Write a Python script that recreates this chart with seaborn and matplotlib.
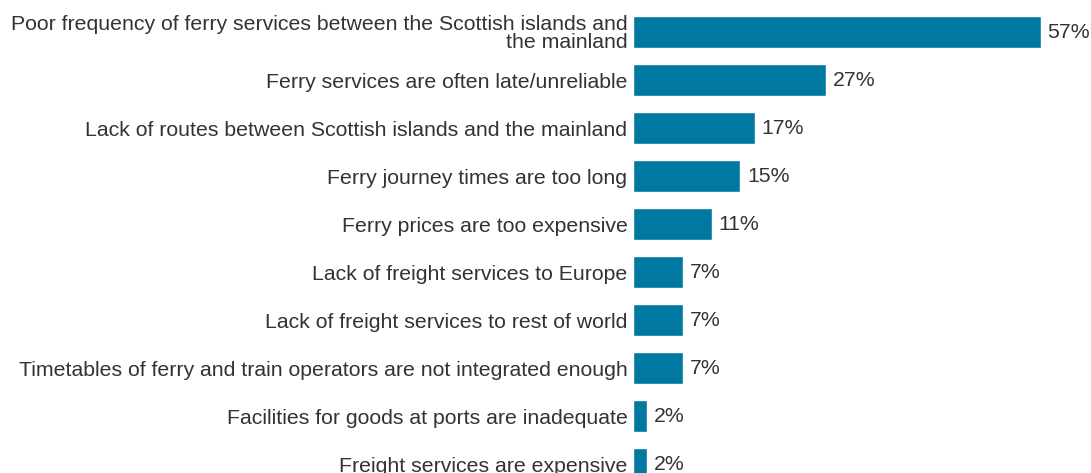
import matplotlib
matplotlib.use("Agg")
import matplotlib.pyplot as plt
import seaborn as sns
import pandas as pd

# Reasons cited, with share of respondents (%)
reasons = [
    "Poor frequency of ferry services between the Scottish islands and\nthe mainland",
    "Ferry services are often late/unreliable",
    "Lack of routes between Scottish islands and the mainland",
    "Ferry journey times are too long",
    "Ferry prices are too expensive",
    "Lack of freight services to Europe",
    "Lack of freight services to rest of world",
    "Timetables of ferry and train operators are not integrated enough",
    "Facilities for goods at ports are inadequate",
    "Freight services are expensive",
]
shares = [57, 27, 17, 15, 11, 7, 7, 7, 2, 2]

df = pd.DataFrame({"reason": reasons, "share": shares})

sns.set_theme(style="white")
plt.rcParams["font.family"] = ["Liberation Sans", "DejaVu Sans"]

W, H = 1091, 473
fig = plt.figure(figsize=(W / 100, H / 100), dpi=100)
# axes spans pixels x 633..1062, y 8..488 (last bar runs off the bottom edge)
ax = fig.add_axes([633 / W, (H - 488) / H, 429 / W, 480 / H])

bar_color = "#00789F"
sns.barplot(data=df, x="share", y="reason", color=bar_color, saturation=1,
            width=0.67, ax=ax, orient="h")

ax.set_xlim(0, 60)
ax.set_ylim(9.5, -0.5)
ax.set_xlabel("")
ax.set_ylabel("")
ax.set_xticks([])
for s in ax.spines.values():
    s.set_visible(False)
ax.tick_params(axis="y", length=0, pad=4, labelsize=15.3, labelcolor="#333333")
for lbl in ax.get_yticklabels():
    lbl.set_linespacing(0.95)
    lbl.set_horizontalalignment("right")

ax.bar_label(ax.containers[0], labels=[f"{v}%" for v in shares],
             padding=5, fontsize=15.3, color="#333333")

fig.savefig("out.png", dpi=100)
